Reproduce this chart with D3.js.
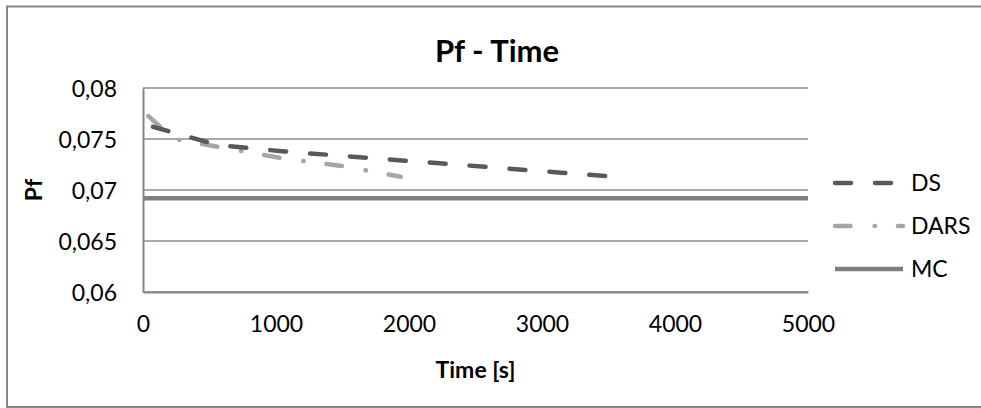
<!DOCTYPE html>
<html>
<head>
<meta charset="utf-8">
<script src="https://cdn.jsdelivr.net/npm/d3@7"></script>
<style>
  html, body { margin: 0; padding: 0; background: #fff; }
  svg text { font-family: Lato, "Open Sans", sans-serif; fill: #000; }
</style>
</head>
<body>
<div id="chart"></div>
<script>
// values
const dsTime = [75, 563, 1044, 1944, 2545, 3146, 3544];
const dsPf = [0.0762, 0.0744, 0.0738, 0.0729, 0.0723, 0.0717, 0.0713];
const darsTime = [40, 233, 1051, 1524, 1937];
const darsPf = [0.07725, 0.0750, 0.0731, 0.0723, 0.0713];
const mcTime = [0, 5000];
const mcPf = [0.0692, 0.0692];

const xTicks = [0, 1000, 2000, 3000, 4000, 5000];
const yTicks = [0.06, 0.065, 0.07, 0.075, 0.08];
const seriesNames = ['DS', 'DARS', 'MC'];

const W = 981, H = 408;
const plot = { left: 143, right: 808, top: 88, bottom: 292 };

const svg = d3.select('#chart').append('svg')
  .attr('width', W)
  .attr('height', H);

// chart border
svg.append('rect')
  .attr('x', 7).attr('y', 6.5)
  .attr('width', 990).attr('height', 400.5)
  .attr('fill', 'none')
  .attr('stroke', '#868686')
  .attr('stroke-width', 2);

const x = d3.scaleLinear().domain([0, 5000]).range([plot.left, plot.right]);
const y = d3.scaleLinear().domain([0.06, 0.08]).range([plot.bottom, plot.top]);

const fmt = d => d3.format('')(+d.toFixed(3)).replace('.', ',');

// gridlines
svg.append('g')
  .selectAll('line')
  .data(yTicks)
  .enter()
  .append('line')
  .attr('x1', plot.left).attr('x2', plot.right)
  .attr('y1', d => y(d)).attr('y2', d => y(d))
  .attr('stroke', '#8c8c8c')
  .attr('stroke-width', 1.5);

// Y axis
const yAxis = svg.append('g')
  .attr('transform', `translate(${plot.left},0)`)
  .call(d3.axisLeft(y).tickValues(yTicks).tickSize(0).tickPadding(26).tickFormat(fmt));
yAxis.select('.domain').attr('stroke', '#868686').attr('stroke-width', 2);
yAxis.selectAll('text')
  .style('font-size', '23px')
  .attr('dy', '0.36em');

// X axis
const xAxis = svg.append('g')
  .attr('transform', `translate(0,${plot.bottom})`)
  .call(d3.axisBottom(x).tickValues(xTicks).tickSize(0).tickPadding(24).tickFormat(d3.format('d')));
xAxis.select('.domain').attr('stroke', '#868686').attr('stroke-width', 2);
xAxis.selectAll('text')
  .style('font-size', '23px');

// title
svg.append('text')
  .attr('x', 497)
  .attr('y', 62)
  .style('text-anchor', 'middle')
  .style('font-size', '31px')
  .style('font-weight', 'bold')
  .text('Pf - Time');

// X label
svg.append('text')
  .attr('x', (plot.left + plot.right) / 2)
  .attr('y', 378)
  .style('text-anchor', 'middle')
  .style('font-size', '23px')
  .style('font-weight', 'bold')
  .text('Time [s]');

// Y label
svg.append('text')
  .attr('transform', 'rotate(-90)')
  .attr('x', -(plot.top + plot.bottom) / 2)
  .attr('y', 42)
  .style('text-anchor', 'middle')
  .style('font-size', '23px')
  .style('font-weight', 'bold')
  .text('Pf');

const series = [
  { name: seriesNames[0], t: dsTime, v: dsPf, color: '#595959', width: 4.5, dash: '16,24' },
  { name: seriesNames[1], t: darsTime, v: darsPf, color: '#a6a6a6', width: 4.5, dash: '15.5,24,0.5,23' },
  { name: seriesNames[2], t: mcTime, v: mcPf, color: '#7f7f7f', width: 4.5, dash: null }
];

const line = d3.line()
  .x(d => x(d[0]))
  .y(d => y(d[1]));

// draw MC first so dashes sit on top
[series[2], series[1], series[0]].forEach(s => {
  svg.append('path')
    .datum(s.t.map((t, i) => [t, s.v[i]]))
    .attr('d', line)
    .attr('fill', 'none')
    .attr('stroke', s.color)
    .attr('stroke-width', s.width)
    .attr('stroke-linecap', s.dash ? 'round' : 'butt')
    .attr('stroke-linejoin', 'round')
    .attr('stroke-dasharray', s.dash);
});

// legend
const legendY = [183, 226, 269];
const legend = svg.append('g');
series.forEach((s, i) => {
  legend.append('line')
    .attr('x1', 835).attr('x2', 903)
    .attr('y1', legendY[i]).attr('y2', legendY[i])
    .attr('stroke', s.color)
    .attr('stroke-width', s.width)
    .attr('stroke-linecap', s.dash ? 'round' : 'butt')
    .attr('stroke-dasharray', s.dash);
  legend.append('text')
    .attr('x', 911)
    .attr('y', legendY[i])
    .attr('dy', '0.36em')
    .style('font-size', '23px')
    .text(s.name);
});
</script>
</body>
</html>
